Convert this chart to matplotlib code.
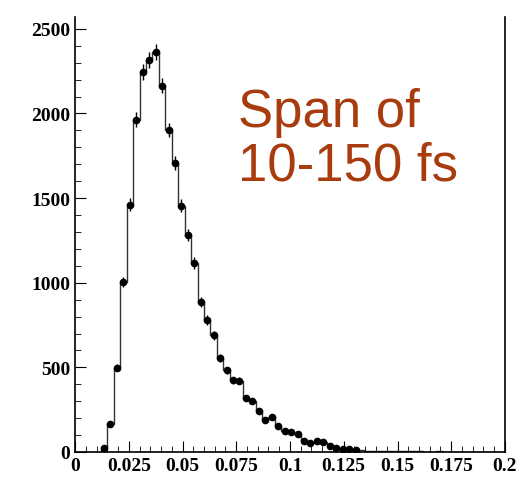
import numpy as np
import matplotlib.pyplot as plt
from matplotlib.ticker import MultipleLocator

bin_width = 0.003
counts = [0, 0, 0, 0, 24, 165, 498, 1004, 1460, 1962, 2244, 2317, 2362, 2165,
          1903, 1708, 1456, 1284, 1117, 886, 781, 689, 555, 483, 425, 421, 320,
          301, 242, 189, 205, 155, 126, 118, 106, 65, 53, 63, 57, 37, 24, 20, 16,
          14, 10, 8, 7, 6, 5, 5, 4, 3, 3, 3, 2, 2, 3, 2, 1, 1, 1, 1, 0, 0, 0, 0, 0]
n_marked = 44  # bins drawn with markers

counts = np.array(counts, dtype=float)
edges = np.arange(len(counts) + 1) * bin_width
centers = edges[:-1] + bin_width / 2

plt.rcParams['font.family'] = ['Liberation Serif', 'DejaVu Serif']
fig = plt.figure(figsize=(5.2, 4.81), dpi=100)
ax = fig.add_axes([75 / 520, 28 / 481, 430 / 520, 435 / 481])

ax.stairs(counts, edges, color='#333333', linewidth=1.0)
m = slice(4, n_marked)
ax.errorbar(centers[m], counts[m], yerr=np.sqrt(counts[m]), fmt='o', color='black',
            markersize=4.5, elinewidth=1, capsize=0)

ax.set_xlim(0, 0.2)
ax.set_ylim(0, 2570)
ax.xaxis.set_minor_locator(MultipleLocator(0.005))
ax.yaxis.set_major_locator(MultipleLocator(500))
ax.yaxis.set_minor_locator(MultipleLocator(100))
ax.set_xticks(np.arange(0, 0.2001, 0.025))
ax.set_xticklabels(['0', '0.025', '0.05', '0.075', '0.1', '0.125', '0.15', '0.175', '0.2'])
ax.tick_params(which='both', direction='in', labelsize=14)
ax.tick_params(which='major', length=8)
ax.tick_params(which='minor', length=4)
for lbl in ax.get_xticklabels() + ax.get_yticklabels():
    lbl.set_fontweight('bold')
ax.spines['top'].set_visible(False)
for s in ['left', 'bottom', 'right']:
    ax.spines[s].set_linewidth(1.2)

ax.text(0.38, 0.72, 'Span of\n10-150 fs', transform=ax.transAxes, color='#a83c0e',
        fontsize=38, family=['Liberation Sans', 'DejaVu Sans'], va='center', ha='left',
        linespacing=1.1)

fig.savefig('out.png', dpi=100)
